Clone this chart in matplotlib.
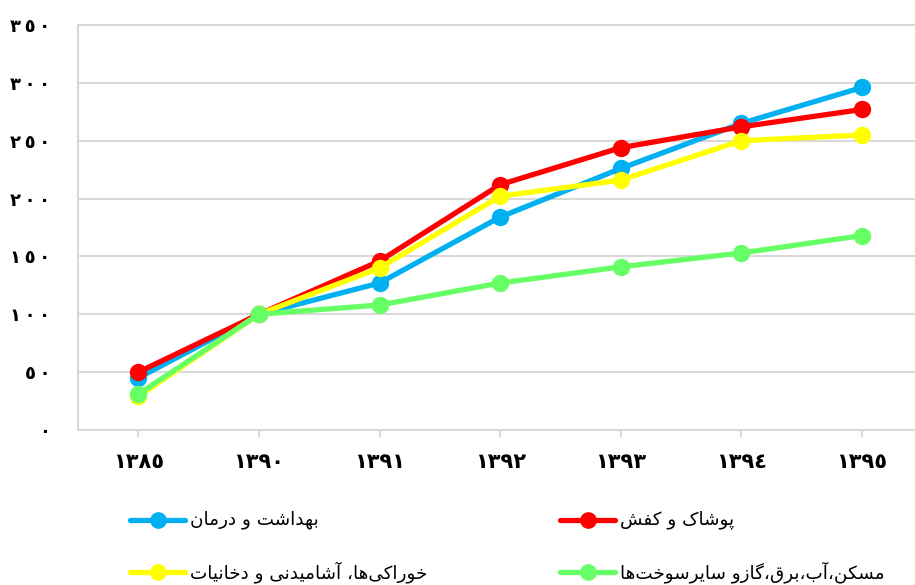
import matplotlib
matplotlib.use("Agg")
import matplotlib.pyplot as plt
from matplotlib.lines import Line2D

# --- data ---
years = ["١٣٨٥", "١٣٩٠", "١٣٩١", "١٣٩٢", "١٣٩٣", "١٣٩٤", "١٣٩٥"]
health = [45, 100, 127, 184, 226, 265, 296]
clothing = [50, 100, 146, 212, 244, 262, 277]
food = [29, 100, 140, 202, 216, 250, 255]
housing = [31, 100, 108, 127, 141, 153, 168]
series_names = ["بهداشت و درمان", "خوراکی‌ها، آشامیدنی و دخانیات",
                "پوشاک و کفش", "مسکن،آب،برق،گازو سایرسوخت‌ها"]
ytick_vals = [0, 50, 100, 150, 200, 250, 300, 350]
ytick_labels = ["٠", "٥٠", "١٠٠", "١٥٠", "٢٠٠", "٢٥٠", "٣٠٠", "٣٥٠"]

colors = {"health": "#00B0F0", "clothing": "#FF0000",
          "food": "#FFFF00", "housing": "#66FF66"}

# minimal Persian shaping: (isolated, final, initial, medial)
FORMS = {
    "\u0627": (0xFE8D, 0xFE8E), "\u0622": (0xFE81, 0xFE82),
    "\u062F": (0xFEA9, 0xFEAA), "\u0631": (0xFEAD, 0xFEAE),
    "\u0632": (0xFEAF, 0xFEB0), "\u0648": (0xFEED, 0xFEEE),
    "\u0628": (0xFE8F, 0xFE90, 0xFE91, 0xFE92),
    "\u067E": (0xFB56, 0xFB57, 0xFB58, 0xFB59),
    "\u062A": (0xFE95, 0xFE96, 0xFE97, 0xFE98),
    "\u062E": (0xFEA5, 0xFEA6, 0xFEA7, 0xFEA8),
    "\u0633": (0xFEB1, 0xFEB2, 0xFEB3, 0xFEB4),
    "\u0634": (0xFEB5, 0xFEB6, 0xFEB7, 0xFEB8),
    "\u0642": (0xFED5, 0xFED6, 0xFED7, 0xFED8),
    "\u0641": (0xFED1, 0xFED2, 0xFED3, 0xFED4),
    "\u06A9": (0xFB8E, 0xFB8F, 0xFB90, 0xFB91),
    "\u06AF": (0xFB92, 0xFB93, 0xFB94, 0xFB95),
    "\u0644": (0xFEDD, 0xFEDE, 0xFEDF, 0xFEE0),
    "\u0645": (0xFEE1, 0xFEE2, 0xFEE3, 0xFEE4),
    "\u0646": (0xFEE5, 0xFEE6, 0xFEE7, 0xFEE8),
    "\u0647": (0xFEE9, 0xFEEA, 0xFEEB, 0xFEEC),
    "\u06CC": (0xFBFC, 0xFBFD, 0xFBFE, 0xFBFF),
}


def shape(text):
    out = []
    chars = list(text)
    for i, c in enumerate(chars):
        if c not in FORMS:
            if c != "\u200c":
                out.append(c)
            continue
        f = FORMS[c]
        prev = chars[i - 1] if i > 0 else None
        nxt = chars[i + 1] if i + 1 < len(chars) else None
        join_prev = prev in FORMS and len(FORMS[prev]) == 4
        join_next = len(f) == 4 and nxt in FORMS
        if join_prev and join_next:
            out.append(chr(f[3]))
        elif join_prev:
            out.append(chr(f[1]))
        elif join_next:
            out.append(chr(f[2]))
        else:
            out.append(chr(f[0]))
    return "".join(reversed(out))


def spaced(s):
    # tick digits in the source are set with wide tracking
    return "\u2009".join(s)


W, H = 915, 585
fig = plt.figure(figsize=(W / 100, H / 100), dpi=100)
ax = fig.add_axes([78 / W, (H - 430) / H, (W - 78) / W, 405 / H])

x = range(len(years))
plot_data = [("health", health), ("clothing", clothing),
             ("food", food), ("housing", housing)]
for key, vals in plot_data:
    ax.plot(x, vals, color=colors[key], lw=3.8, marker="o", ms=11.5,
            solid_capstyle="round", zorder=3)

ax.set_xlim(-0.5, 6.44)
ax.set_ylim(0, 350)
ax.set_yticks(ytick_vals)
ax.set_yticklabels([spaced(t) for t in ytick_labels], fontsize=13, fontweight="bold")
ax.set_xticks(list(x))
ax.set_xticklabels(years, fontsize=15, fontweight="bold")
ax.grid(axis="y", color="#D9D9D9", lw=1.5)
ax.set_axisbelow(True)
ax.spines["right"].set_visible(False)
for s in ["left", "bottom", "top"]:
    ax.spines[s].set_color("#D9D9D9")
    ax.spines[s].set_linewidth(1.5)
ax.tick_params(axis="y", length=0, pad=20)
ax.tick_params(axis="x", length=5, color="#D9D9D9", width=1.5, pad=11)

# legend drawn by hand (two columns)
leg_colors = [colors["health"], colors["food"], colors["clothing"], colors["housing"]]
leg_pos = [(130, 520), (130, 572), (560, 520), (560, 572)]
for name, col, (px, py) in zip(series_names, leg_colors, leg_pos):
    fy = (H - py) / H
    fig.add_artist(Line2D([px / W, (px + 55) / W], [fy, fy], color=col, lw=3.8,
                          solid_capstyle="round", transform=fig.transFigure))
    fig.add_artist(Line2D([(px + 27.5) / W], [fy], color=col, marker="o", ms=11,
                          transform=fig.transFigure))
    fig.text((px + 60) / W, fy, shape(name), fontsize=13.2, ha="left", va="center")

fig.savefig("out.png", dpi=100)
